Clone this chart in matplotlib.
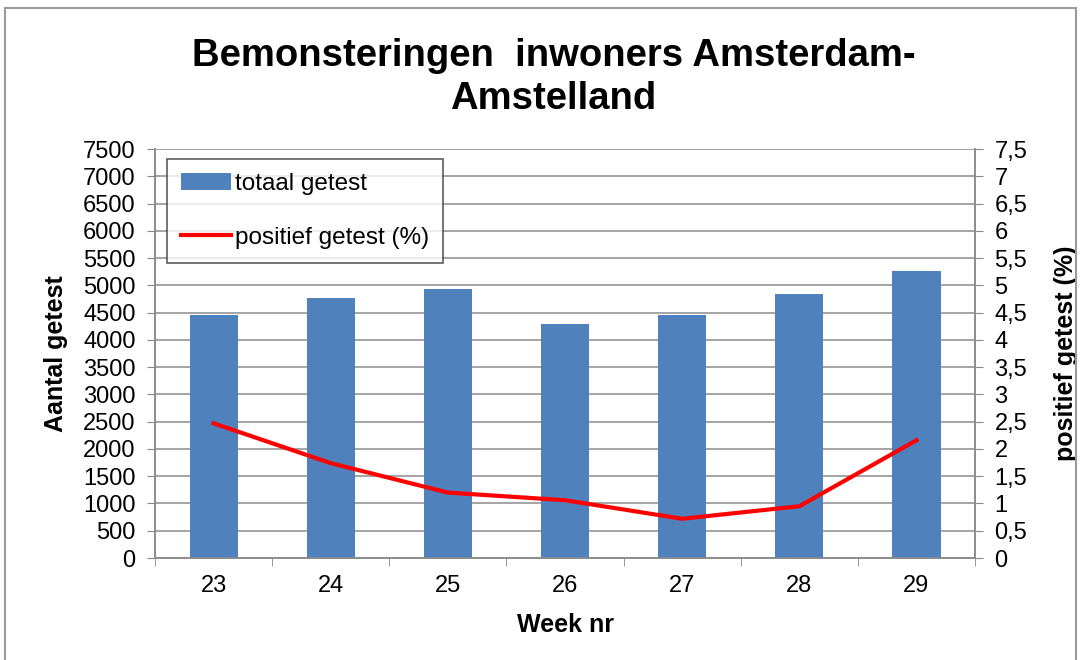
import matplotlib.pyplot as plt
from matplotlib.patches import Rectangle

# data
weeks = ['23', '24', '25', '26', '27', '28', '29']
totaal = [4455, 4765, 4930, 4290, 4455, 4840, 5270]
positief = [2.47, 1.74, 1.20, 1.06, 0.72, 0.95, 2.16]

left_ticks = list(range(0, 7501, 500))
right_ticks = [v / 2 for v in range(0, 16)]
right_labels = ['0', '0,5', '1', '1,5', '2', '2,5', '3', '3,5', '4', '4,5',
                '5', '5,5', '6', '6,5', '7', '7,5']

plt.rcParams['font.family'] = ['Liberation Sans', 'DejaVu Sans']

fig = plt.figure(figsize=(10.81, 6.60), dpi=100)
ax = fig.add_axes([0.1434, 0.1545, 0.7586, 0.6197])
ax2 = ax.twinx()

x = range(len(weeks))
bars = ax.bar(x, totaal, width=0.41, color='#4F81BD', zorder=3, label='totaal getest')
line, = ax2.plot(x, positief, color='#FF0000', lw=3, zorder=4, label='positief getest (%)')

ax.set_xlim(-0.5, len(weeks) - 0.5)
ax.set_ylim(0, 7500)
ax2.set_ylim(0, 7.5)
ax.set_yticks(left_ticks)
ax.set_yticklabels([str(v) for v in left_ticks], fontsize=17)
ax2.set_yticks(right_ticks)
ax2.set_yticklabels(right_labels, fontsize=17)
ax.set_xticks(list(x))
ax.set_xticklabels(weeks, fontsize=17)
ax.set_xticks([i + 0.5 for i in range(-1, len(weeks))], minor=True)
ax.tick_params(axis='x', which='major', length=0, pad=12)
ax.tick_params(axis='x', which='minor', length=6, color='#888888')
ax.tick_params(axis='y', length=6, color='#888888', pad=8)
ax2.tick_params(axis='y', length=6, color='#888888', pad=8)

ax.grid(axis='y', color='#8C8C8C', lw=1.1, zorder=0)
ax.set_axisbelow(True)
for a in (ax, ax2):
    a.spines['top'].set_visible(False)
    for s in ('left', 'right', 'bottom'):
        a.spines[s].set_color('#8C8C8C')
        a.spines[s].set_linewidth(1.2)

ax.set_ylabel('Aantal getest', fontsize=18, fontweight='bold', labelpad=11)
ax2.set_ylabel('positief getest (%)', fontsize=18, fontweight='bold', labelpad=19)
ax.set_xlabel('Week nr', fontsize=18, fontweight='bold', labelpad=12)

fig.text(0.512, 0.883, 'Bemonsteringen  inwoners Amsterdam-\nAmstelland',
         ha='center', va='center', fontsize=27.5, fontweight='bold', linespacing=1.25)

leg = ax.legend([bars, line], ['totaal getest', 'positief getest (%)'],
                loc='upper left', bbox_to_anchor=(0.0146, 0.9756), borderaxespad=0,
                fontsize=17.5, frameon=True, fancybox=False, edgecolor='#333333',
                borderpad=0.58, labelspacing=1.3, handlelength=2.06, handletextpad=0.15)
leg.get_frame().set_linewidth(1.2)
leg.set_zorder(10)

fig.patches.append(Rectangle((0.005, -0.01), 0.99, 0.998, transform=fig.transFigure,
                             fill=False, edgecolor='#9A9A9A', lw=1.5))

fig.savefig('out.png', dpi=100)
